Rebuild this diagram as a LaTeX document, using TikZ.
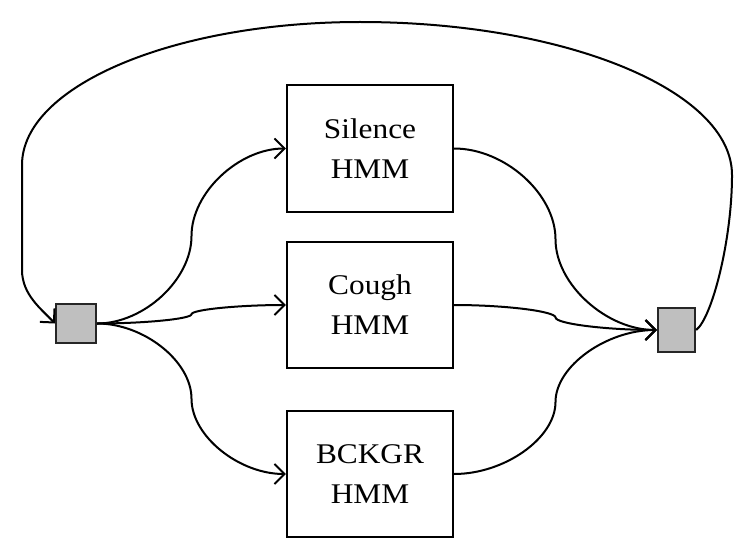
\documentclass[tikz,border=0pt]{standalone}
\usepackage{fontspec}
\usepackage{graphicx}
\setmainfont{Liberation Serif}
\usetikzlibrary{arrows.meta}
\newcommand{\wtxt}[1]{\scalebox{1.1}[1]{#1}}
\begin{document}
\begin{tikzpicture}[x=1pt,y=-1pt,
  hmmbox/.style={draw=black, line width=2.2pt, minimum width=166pt, minimum height=126pt, inner sep=0pt, align=center, font=\fontsize{28.5}{40}\selectfont},
  junction/.style={draw=black!85, fill=black!25, line width=2.2pt, inner sep=0pt},
  conn/.style={line width=2pt, -{Straight Barb[length=10pt,width=20pt]}}
]
\useasboundingbox (0,0) rectangle (751,559);
\node[junction, minimum width=40pt, minimum height=39pt] (L) at (76,323.5) {};
\node[junction, minimum width=37pt, minimum height=44pt] (R) at (676.5,330) {};
\node[hmmbox, minimum height=127pt] (S) at (370,148.5) {\wtxt{Silence}\\\wtxt{HMM}};
\node[hmmbox] (C) at (370,305) {\wtxt{Cough}\\\wtxt{HMM}};
\node[hmmbox] (B) at (370,474) {\wtxt{BCKGR}\\\wtxt{HMM}};

% midpoints
\coordinate (ms) at (191.5,236);
\coordinate (mc) at (191.5,314.25);
\coordinate (mb) at (191.5,398.75);
\coordinate (ns) at (555.5,239.25);
\coordinate (nc) at (555.5,317.5);
\coordinate (nb) at (555.5,402);

% left fan
\draw[conn] (L.east) .. controls (143.75,323.5) and (191.5,279.75) .. (ms)
  .. controls (191.5,192.25) and (239.25,148.5) .. (S.west);
\draw[conn] (L.east) .. controls (143.75,323.5) and (191.5,318.9) .. (mc)
  .. controls (191.5,309.6) and (239.25,305) .. (C.west);
\draw[conn] (L.east) .. controls (143.75,323.5) and (191.5,361.1) .. (mb)
  .. controls (191.5,436.4) and (239.25,474) .. (B.west);

% right fan
\draw[conn] (S.east) .. controls (504.75,148.5) and (555.5,193.9) .. (ns)
  .. controls (555.5,284.6) and (606.75,330) .. (R.west);
\draw[conn] (C.east) .. controls (504.75,305) and (555.5,311.25) .. (nc)
  .. controls (555.5,323.75) and (606.75,330) .. (R.west);
\draw[conn] (B.east) .. controls (504.75,474) and (555.5,438) .. (nb)
  .. controls (555.5,366) and (606.75,330) .. (R.west);

% feedback loop
\coordinate (p1) at (732,175);
\coordinate (top) at (360,22);
\coordinate (p2) at (22,165);
\coordinate (p3) at (22,270);
\draw[conn] (R.east) .. controls (712,318) and (732,240) .. (p1)
  .. controls (732,90.5) and (565.3,22) .. (top)
  .. controls (173.4,22) and (22,86.1) .. (p2)
  -- (p3)
  .. controls (22,295) and (42,309.5) .. (L.west);
\end{tikzpicture}
\end{document}
